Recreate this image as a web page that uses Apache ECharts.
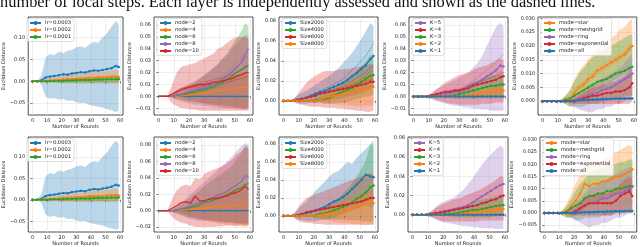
<!DOCTYPE html>
<html><head><meta charset="utf-8">
<script src="https://cdn.jsdelivr.net/npm/echarts@6/dist/echarts.min.js"></script>
<style>html,body{margin:0;padding:0;background:#fff}#c{width:640px;height:247px}</style>
</head><body><div id="c"></div>
<script>
// rounds sampled
const X = [0,3,6,9,12,15,18,21,24,27,30,33,36,39,42,45,48,51,54,57,59];
const xTicks = [0,10,20,30,40,50,60];
const Z = [0,0,0,0,0,0,0,0,0,0,0,0,0,0,0,0,0,0,0,0,0];

// Panel A / F : learning rate
const lrNames = ['lr=0.0003','lr=0.0002','lr=0.0001'];
const A_m1 = [0,0,0.002,0.009,0.011,0.012,0.014,0.016,0.015,0.018,0.019,0.021,0.020,0.023,0.025,0.024,0.026,0.028,0.030,0.035,0.033];
const A_h1 = [0,0,0.012,0.055,0.062,0.060,0.068,0.065,0.070,0.072,0.078,0.080,0.076,0.085,0.090,0.088,0.100,0.110,0.125,0.138,0.130];
const A_l1 = [0,0,-0.007,-0.035,-0.040,-0.038,-0.042,-0.040,-0.045,-0.044,-0.048,-0.050,-0.049,-0.054,-0.056,-0.058,-0.060,-0.064,-0.066,-0.070,-0.067];
const A_m2 = [0,0,0,0.001,0.002,0.002,0.003,0.004,0.004,0.005,0.006,0.006,0.007,0.008,0.008,0.009,0.009,0.010,0.011,0.011,0.010];
const A_h2 = [0,0,0.001,0.005,0.008,0.009,0.010,0.012,0.013,0.015,0.017,0.017,0.018,0.020,0.021,0.022,0.022,0.024,0.025,0.026,0.024];
const A_l2 = [0,0,-0.001,-0.003,-0.004,-0.004,-0.004,-0.005,-0.005,-0.005,-0.005,-0.006,-0.005,-0.005,-0.006,-0.005,-0.005,-0.006,-0.005,-0.006,-0.005];
const A_m3 = [0,0,0,0,0.0005,0.001,0.001,0.0015,0.002,0.002,0.0025,0.003,0.003,0.003,0.0035,0.004,0.004,0.0045,0.005,0.005,0.005];
const A_h3 = [0,0,0,0.001,0.003,0.004,0.005,0.006,0.007,0.007,0.008,0.009,0.009,0.010,0.010,0.011,0.011,0.012,0.012,0.013,0.012];
const A_l3 = [0,0,0,-0.001,-0.002,-0.002,-0.003,-0.003,-0.003,-0.003,-0.003,-0.003,-0.003,-0.004,-0.003,-0.003,-0.003,-0.003,-0.003,-0.003,-0.003];

// Panel B : nodes (top)
const nodeNames = ['node=2','node=4','node=6','node=8','node=10'];
const B_m2 = [0,0,0,0,0,0.0005,0.001,0.0015,0.002,0.0025,0.003,0.0035,0.004,0.0045,0.005,0.0055,0.006,0.007,0.0075,0.008,0.008];
const B_h2 = [0,0,0,0,0,0.002,0.004,0.006,0.008,0.009,0.010,0.011,0.012,0.013,0.014,0.015,0.016,0.018,0.019,0.020,0.020];
const B_l2 = [0,0,0,0,0,-0.001,-0.002,-0.003,-0.004,-0.005,-0.006,-0.007,-0.007,-0.008,-0.009,-0.009,-0.010,-0.010,-0.010,-0.011,-0.010];
const B_m3 = [0,0,0,0,0.001,0.0015,0.002,0.003,0.004,0.005,0.006,0.007,0.008,0.010,0.012,0.014,0.017,0.020,0.022,0.025,0.026];
const B_h3 = [0,0,0,0.001,0.004,0.006,0.008,0.010,0.012,0.015,0.018,0.020,0.024,0.027,0.032,0.036,0.042,0.048,0.054,0.062,0.058];
const B_l3 = [0,0,0,-0.001,-0.002,-0.003,-0.004,-0.004,-0.005,-0.005,-0.006,-0.006,-0.007,-0.007,-0.007,-0.008,-0.008,-0.009,-0.009,-0.010,-0.009];
const B_m4 = [0,0,0,0,0.001,0.002,0.003,0.004,0.005,0.006,0.007,0.008,0.010,0.012,0.014,0.017,0.020,0.024,0.028,0.035,0.040];
const B_h4 = [0,0,0,0.001,0.004,0.007,0.009,0.011,0.013,0.015,0.018,0.021,0.024,0.027,0.031,0.035,0.040,0.044,0.048,0.052,0.050];
const B_l4 = [0,0,0,-0.001,-0.003,-0.004,-0.005,-0.006,-0.007,-0.007,-0.008,-0.008,-0.009,-0.009,-0.010,-0.010,-0.010,-0.010,-0.011,-0.011,-0.010];
const B_m5 = [0,0,0,0.002,0.004,0.006,0.007,0.008,0.009,0.010,0.010,0.011,0.012,0.012,0.013,0.014,0.015,0.017,0.018,0.020,0.020];
const B_h5 = [0,0,0.001,0.010,0.020,0.025,0.026,0.027,0.028,0.030,0.032,0.034,0.036,0.040,0.042,0.045,0.048,0.050,0.050,0.050,0.048];
const B_l5 = [0,0,-0.001,-0.006,-0.008,-0.010,-0.010,-0.011,-0.011,-0.012,-0.012,-0.012,-0.012,-0.012,-0.012,-0.012,-0.012,-0.012,-0.012,-0.012,-0.012];
// per-layer (dashed) curves, panel B
const B_g_a = [0,0,0,0,0.001,0.002,0.003,0.004,0.005,0.006,0.007,0.009,0.010,0.013,0.015,0.018,0.021,0.025,0.028,0.032,0.034];
const B_g_b = [0,0,0,0,0.001,0.001,0.002,0.002,0.003,0.004,0.005,0.006,0.007,0.008,0.010,0.011,0.013,0.016,0.018,0.020,0.022];
const B_p_a = [0,0,0,0,0.001,0.002,0.003,0.005,0.006,0.007,0.008,0.010,0.012,0.014,0.017,0.020,0.024,0.028,0.032,0.037,0.036];
const B_p_b = [0,0,0,0,0.001,0.002,0.003,0.003,0.004,0.005,0.006,0.007,0.009,0.010,0.012,0.014,0.017,0.020,0.023,0.027,0.028];
const B_r_a = [0,0,0,0.002,0.005,0.007,0.008,0.009,0.010,0.011,0.012,0.013,0.014,0.015,0.016,0.017,0.018,0.020,0.022,0.024,0.025];
const B_r_b = [0,0,0,0.001,0.003,0.005,0.006,0.007,0.008,0.008,0.009,0.010,0.010,0.011,0.011,0.012,0.013,0.014,0.015,0.016,0.017];

// Panel C : dataset size (top)
const sizeNames = ['Size2000','Size4000','Size6000','Size8000'];
const C_m1 = [0,0,0,0.001,0.002,0.003,0.005,0.007,0.009,0.010,0.012,0.014,0.016,0.018,0.021,0.025,0.028,0.032,0.036,0.042,0.045];
const C_h1 = [0,0,0.001,0.005,0.008,0.010,0.013,0.016,0.019,0.022,0.025,0.029,0.033,0.038,0.043,0.048,0.055,0.062,0.070,0.078,0.075];
const C_l1 = [0,0,-0.001,-0.002,-0.003,-0.003,-0.002,-0.002,-0.001,-0.001,0,0.001,0.002,0.003,0.004,0.005,0.006,0.008,0.010,0.012,0.014];
const C_m2 = [0,0,0,0,0,0,0,0.0005,0.001,0.002,0.003,0.005,0.007,0.009,0.011,0.013,0.016,0.019,0.022,0.025,0.026];
const C_h2 = [0,0,0,0,0,0.001,0.002,0.003,0.005,0.007,0.009,0.012,0.015,0.018,0.022,0.026,0.030,0.035,0.040,0.046,0.045];
const C_l2 = [0,0,0,0,0,-0.001,-0.001,-0.002,-0.002,-0.003,-0.003,-0.003,-0.002,-0.002,-0.001,0,0.002,0.003,0.004,0.005,0.006];
const C_m3 = [0,0,0,0.001,0.002,0.003,0.004,0.005,0.007,0.008,0.009,0.010,0.011,0.012,0.013,0.014,0.015,0.016,0.017,0.019,0.019];
const C_h3 = [0,0,0.001,0.006,0.012,0.018,0.022,0.025,0.028,0.030,0.030,0.030,0.031,0.032,0.032,0.033,0.034,0.035,0.036,0.037,0.036];
const C_l3 = [0,0,-0.001,-0.003,-0.004,-0.005,-0.006,-0.006,-0.006,-0.007,-0.007,-0.007,-0.008,-0.008,-0.009,-0.009,-0.010,-0.010,-0.011,-0.011,-0.010];
const C_m4 = [0,0,0,0,0,0,0,0,0.001,0.003,0.004,0.005,0.006,0.007,0.008,0.009,0.010,0.011,0.012,0.013,0.014];
const C_h4 = [0,0,0,0,0,0,0,0,0.004,0.008,0.010,0.012,0.014,0.016,0.018,0.020,0.022,0.024,0.026,0.028,0.028];
const C_l4 = [0,0,0,0,0,0,0,0,-0.002,-0.003,-0.003,-0.003,-0.004,-0.004,-0.004,-0.005,-0.005,-0.005,-0.005,-0.005,-0.005];
const C_b_a = [0,0,0,0.001,0.002,0.004,0.006,0.008,0.010,0.012,0.014,0.017,0.019,0.022,0.026,0.031,0.035,0.040,0.045,0.052,0.058];
const C_b_b = [0,0,0,0.001,0.002,0.003,0.004,0.006,0.007,0.008,0.010,0.012,0.013,0.015,0.017,0.020,0.023,0.026,0.029,0.033,0.036];
const C_g_a = [0,0,0,0,0,0,0,0.001,0.001,0.002,0.004,0.006,0.008,0.011,0.013,0.016,0.019,0.022,0.025,0.029,0.031];
const C_r_a = [0,0,0,0.001,0.002,0.003,0.004,0.006,0.008,0.009,0.010,0.011,0.012,0.013,0.015,0.016,0.017,0.018,0.020,0.021,0.022];

// Panel D : local steps K (top)
const kNames = ['K=5','K=4','K=3','K=2','K=1'];
const D_m1 = [0,0,0,0,0.0005,0.001,0.002,0.002,0.003,0.004,0.004,0.006,0.008,0.010,0.012,0.014,0.017,0.019,0.022,0.026,0.025];
const D_h1 = [0,0,0,0.001,0.003,0.006,0.008,0.010,0.012,0.014,0.016,0.018,0.020,0.024,0.028,0.034,0.042,0.050,0.058,0.062,0.058];
const D_l1 = [0,0,0,-0.001,-0.002,-0.004,-0.005,-0.006,-0.007,-0.008,-0.008,-0.009,-0.009,-0.010,-0.010,-0.011,-0.011,-0.012,-0.012,-0.012,-0.012];
const D_m2 = [0,0,0,0,0.001,0.002,0.003,0.004,0.004,0.005,0.005,0.006,0.007,0.009,0.010,0.011,0.012,0.013,0.014,0.016,0.017];
const D_h2 = [0,0,0,0.001,0.003,0.006,0.009,0.012,0.014,0.016,0.018,0.019,0.020,0.022,0.024,0.025,0.026,0.028,0.030,0.032,0.030];
const D_l2 = [0,0,0,-0.001,-0.002,-0.003,-0.004,-0.005,-0.006,-0.006,-0.007,-0.007,-0.007,-0.007,-0.007,-0.006,-0.006,-0.006,-0.005,-0.005,-0.005];
const D_m3 = [0,0,0,0,0,0,0,0,0.0005,0.001,0.002,0.003,0.004,0.005,0.006,0.007,0.008,0.009,0.009,0.010,0.010];
const D_h3 = [0,0,0,0,0,0,0,0.001,0.002,0.004,0.006,0.008,0.010,0.012,0.013,0.015,0.016,0.017,0.018,0.019,0.019];
const D_l3 = [0,0,0,0,0,0,0,-0.001,-0.001,-0.002,-0.002,-0.002,-0.002,-0.002,-0.001,-0.001,0,0,0,0.001,0.001];
const D_m4 = [0,0,0,0,0,0,0,0,0,0,0,0,0.0005,0.001,0.002,0.003,0.003,0.004,0.004,0.005,0.005];
const D_h4 = [0,0,0,0,0,0,0,0,0,0,0,0.001,0.002,0.004,0.006,0.007,0.008,0.009,0.010,0.011,0.011];
const D_l4 = [0,0,0,0,0,0,0,0,0,0,0,-0.001,-0.001,-0.002,-0.002,-0.002,-0.002,-0.002,-0.002,-0.002,-0.002];
const D_p_a = [0,0,0,0,0.001,0.001,0.002,0.003,0.004,0.005,0.006,0.008,0.010,0.013,0.016,0.019,0.022,0.025,0.028,0.033,0.035];
const D_p_b = [0,0,0,0,0,0.001,0.001,0.002,0.002,0.003,0.003,0.005,0.006,0.008,0.010,0.012,0.014,0.016,0.018,0.021,0.020];
const D_r_a = [0,0,0,0,0.001,0.002,0.003,0.004,0.005,0.006,0.006,0.007,0.009,0.011,0.012,0.013,0.015,0.016,0.017,0.019,0.020];

// Panel E : topology mode (top)
const modeNames = ['mode=star','mode=meshgrid','mode=ring','mode=exponential','mode=all'];
const E_m1 = [0,0,0,0,0,0.0005,0.001,0.003,0.005,0.006,0.008,0.009,0.011,0.012,0.013,0.014,0.015,0.016,0.017,0.019,0.020];
const E_h1 = [0,0,0,0,0.0005,0.002,0.004,0.008,0.011,0.013,0.015,0.017,0.019,0.021,0.022,0.023,0.024,0.026,0.027,0.029,0.030];
const E_l1 = [0,0,0,0,-0.0005,-0.001,-0.002,-0.001,0,0.001,0.002,0.003,0.004,0.005,0.006,0.007,0.008,0.009,0.010,0.011,0.012];
const E_m2 = [0,0,0,0,0,0.0005,0.001,0.002,0.003,0.004,0.005,0.006,0.007,0.0075,0.008,0.009,0.010,0.0105,0.011,0.012,0.0125];
const E_h2 = [0,0,0,0,0.0005,0.002,0.004,0.007,0.010,0.012,0.014,0.016,0.017,0.018,0.019,0.020,0.021,0.022,0.023,0.024,0.024];
const E_l2 = [0,0,0,0,-0.0005,-0.001,-0.002,-0.002,-0.002,-0.002,-0.001,-0.001,-0.001,0,0,0.001,0.001,0.001,0.002,0.002,0.002];
const E_m3 = [0,0,0,0,0,0,0,0.0005,0.001,0.0015,0.002,0.0025,0.003,0.004,0.0045,0.005,0.006,0.007,0.008,0.009,0.010];
const E_h3 = [0,0,0,0,0,0.0005,0.001,0.002,0.003,0.004,0.005,0.006,0.007,0.008,0.009,0.010,0.011,0.012,0.014,0.016,0.017];
const E_l3 = [0,0,0,0,0,-0.0005,-0.001,-0.002,-0.003,-0.0035,-0.004,-0.004,-0.003,-0.003,-0.002,-0.002,-0.001,-0.001,0,0.001,0.002];
const E_m4 = [0,0,0,0,0,0,0,0,0.0005,0.001,0.0015,0.002,0.002,0.0025,0.003,0.003,0.0035,0.0035,0.004,0.005,0.0065];
const E_h4 = [0,0,0,0,0,0,0.0005,0.001,0.002,0.003,0.004,0.005,0.005,0.006,0.006,0.007,0.007,0.008,0.009,0.011,0.012];
const E_l4 = [0,0,0,0,0,0,-0.0005,-0.001,-0.001,-0.001,-0.001,-0.001,-0.001,-0.001,-0.001,-0.001,-0.001,-0.001,-0.001,-0.001,0];
const E_m5 = [0,0,0,0,0,0,0,0.0002,0.0003,0.0004,0.0005,0.0006,0.0006,0.0007,0.0008,0.0008,0.0009,0.0009,0.001,0.001,0.001];
const E_h5 = [0,0,0,0,0,0,0.0003,0.0006,0.0008,0.0009,0.001,0.0011,0.0011,0.0012,0.0013,0.0013,0.0014,0.0014,0.0015,0.0015,0.0015];
const E_l5 = [0,0,0,0,0,0,-0.0003,-0.0002,-0.0002,-0.0001,0,0.0001,0.0001,0.0002,0.0003,0.0003,0.0004,0.0004,0.0005,0.0005,0.0005];
const E_o_a = [0,0,0,0,0,0.001,0.002,0.004,0.006,0.007,0.009,0.010,0.012,0.013,0.014,0.015,0.016,0.017,0.018,0.020,0.021];
const E_o_b = [0,0,0,0,0,0.0005,0.001,0.002,0.004,0.005,0.007,0.008,0.010,0.011,0.012,0.013,0.014,0.015,0.016,0.018,0.019];

// Panel G : nodes (bottom)
const G_m2 = [0,0,0,0,0,0.0005,0.001,0.0015,0.002,0.003,0.003,0.004,0.004,0.005,0.005,0.006,0.006,0.007,0.007,0.007,0.007];
const G_h2 = [0,0,0,0,0.001,0.003,0.005,0.007,0.009,0.011,0.013,0.015,0.017,0.019,0.021,0.023,0.025,0.027,0.028,0.029,0.028];
const G_l2 = [0,0,0,0,-0.001,-0.003,-0.005,-0.007,-0.009,-0.011,-0.012,-0.013,-0.014,-0.015,-0.016,-0.017,-0.018,-0.019,-0.019,-0.020,-0.019];
const G_m3 = [0,0,0,0,0.001,0.002,0.003,0.004,0.005,0.007,0.010,0.011,0.013,0.015,0.017,0.019,0.022,0.026,0.028,0.032,0.033];
const G_h3 = [0,0,0,0.001,0.004,0.008,0.012,0.016,0.020,0.025,0.030,0.034,0.038,0.042,0.046,0.050,0.055,0.062,0.070,0.080,0.078];
const G_l3 = [0,0,0,-0.001,-0.003,-0.005,-0.007,-0.008,-0.009,-0.010,-0.010,-0.011,-0.012,-0.012,-0.013,-0.014,-0.014,-0.015,-0.015,-0.016,-0.015];
const G_m4 = [0,0,0,0,0.001,0.002,0.004,0.006,0.008,0.010,0.012,0.014,0.016,0.019,0.021,0.024,0.028,0.031,0.035,0.043,0.041];
const G_h4 = [0,0,0,0.001,0.005,0.010,0.015,0.020,0.025,0.030,0.035,0.040,0.045,0.050,0.055,0.060,0.066,0.072,0.078,0.083,0.080];
const G_l4 = [0,0,0,-0.001,-0.004,-0.006,-0.008,-0.010,-0.011,-0.012,-0.012,-0.013,-0.013,-0.014,-0.014,-0.015,-0.015,-0.016,-0.016,-0.017,-0.016];
const G_m5 = [0,0,0,0.003,0.006,0.010,0.011,0.009,0.018,0.012,0.012,0.014,0.015,0.015,0.017,0.018,0.021,0.022,0.025,0.030,0.026];
const G_h5 = [0,0,0.001,0.015,0.025,0.030,0.032,0.030,0.040,0.038,0.045,0.048,0.050,0.052,0.055,0.058,0.062,0.068,0.072,0.078,0.075];
const G_l5 = [0,0,-0.001,-0.008,-0.012,-0.015,-0.016,-0.018,-0.020,-0.020,-0.020,-0.020,-0.020,-0.019,-0.019,-0.018,-0.018,-0.018,-0.018,-0.018,-0.018];

// Panel H : dataset size (bottom)
const H_m1 = [0,0,0,0.001,0.002,0.003,0.004,0.006,0.008,0.010,0.013,0.016,0.018,0.021,0.025,0.030,0.035,0.040,0.046,0.044,0.043];
const H_h1 = [0,0,0.001,0.006,0.012,0.016,0.022,0.028,0.033,0.038,0.044,0.048,0.050,0.055,0.060,0.058,0.065,0.070,0.075,0.080,0.078];
const H_l1 = [0,0,-0.001,-0.004,-0.005,-0.006,-0.006,-0.006,-0.005,-0.004,-0.003,-0.002,0,0.002,0.004,0.006,0.008,0.010,0.012,0.010,0.010];
const H_m2 = [0,0,0,0,0,0,0,0.0005,0.002,0.003,0.004,0.006,0.008,0.010,0.012,0.015,0.019,0.022,0.026,0.032,0.034];
const H_h2 = [0,0,0,0,0,0,0.001,0.003,0.006,0.009,0.012,0.016,0.020,0.025,0.030,0.036,0.044,0.052,0.062,0.080,0.085];
const H_l2 = [0,0,0,0,0,0,-0.001,-0.002,-0.003,-0.004,-0.004,-0.004,-0.004,-0.004,-0.005,-0.005,-0.005,-0.006,-0.006,-0.007,-0.006];
const H_m3 = [0,0,0,0.001,0.002,0.004,0.005,0.006,0.007,0.008,0.009,0.010,0.011,0.012,0.013,0.014,0.015,0.016,0.018,0.020,0.020];
const H_h3 = [0,0,0.001,0.008,0.015,0.020,0.022,0.024,0.026,0.028,0.030,0.032,0.034,0.036,0.038,0.040,0.042,0.044,0.046,0.048,0.046];
const H_l3 = [0,0,-0.001,-0.005,-0.007,-0.008,-0.008,-0.009,-0.009,-0.010,-0.010,-0.010,-0.010,-0.010,-0.010,-0.010,-0.010,-0.010,-0.010,-0.010,-0.010];
const H_m4 = [0,0,0,0,0,0,0,0,0.001,0.002,0.003,0.004,0.005,0.005,0.006,0.008,0.010,0.011,0.013,0.016,0.014];
const H_h4 = [0,0,0,0,0,0,0,0.001,0.004,0.007,0.010,0.012,0.014,0.016,0.018,0.020,0.022,0.024,0.026,0.028,0.027];
const H_l4 = [0,0,0,0,0,0,0,-0.001,-0.003,-0.004,-0.005,-0.006,-0.007,-0.008,-0.008,-0.009,-0.009,-0.010,-0.010,-0.010,-0.010];

// Panel I : local steps K (bottom)
const I_m1 = [0,0,0,0,0.0005,0.001,0.003,0.004,0.005,0.006,0.007,0.008,0.010,0.013,0.016,0.019,0.022,0.025,0.028,0.031,0.032];
const I_h1 = [0,0,0,0.001,0.004,0.008,0.012,0.014,0.016,0.018,0.022,0.026,0.032,0.038,0.045,0.052,0.058,0.063,0.068,0.072,0.070];
const I_l1 = [0,0,0,-0.001,-0.003,-0.005,-0.007,-0.008,-0.009,-0.010,-0.011,-0.012,-0.012,-0.013,-0.013,-0.014,-0.014,-0.014,-0.015,-0.015,-0.015];
const I_m2 = [0,0,0,0,0.001,0.002,0.002,0.003,0.004,0.005,0.006,0.007,0.008,0.009,0.010,0.012,0.013,0.015,0.016,0.019,0.020];
const I_h2 = [0,0,0,0.001,0.003,0.007,0.010,0.012,0.014,0.016,0.017,0.019,0.021,0.023,0.025,0.027,0.030,0.033,0.036,0.040,0.039];
const I_l2 = [0,0,0,-0.001,-0.002,-0.004,-0.006,-0.007,-0.007,-0.007,-0.007,-0.007,-0.007,-0.007,-0.007,-0.006,-0.006,-0.006,-0.006,-0.006,-0.006];
const I_m3 = [0,0,0,0,0,0,0,0.0005,0.001,0.001,0.002,0.003,0.004,0.005,0.005,0.006,0.007,0.008,0.009,0.010,0.010];
const I_h3 = [0,0,0,0,0,0,0.001,0.002,0.004,0.005,0.007,0.009,0.011,0.013,0.014,0.016,0.017,0.018,0.019,0.020,0.020];
const I_l3 = [0,0,0,0,0,0,-0.001,-0.001,-0.002,-0.003,-0.003,-0.003,-0.003,-0.003,-0.003,-0.003,-0.003,-0.002,-0.002,-0.001,-0.001];
const I_m4 = [0,0,0,0,0,0,0,0,0,0,0.0005,0.001,0.002,0.002,0.003,0.003,0.004,0.004,0.005,0.006,0.006];
const I_h4 = [0,0,0,0,0,0,0,0,0,0,0.002,0.004,0.005,0.006,0.007,0.008,0.009,0.010,0.011,0.012,0.012];
const I_l4 = [0,0,0,0,0,0,0,0,0,0,-0.001,-0.002,-0.002,-0.002,-0.002,-0.002,-0.002,-0.002,-0.001,-0.001,-0.001];

// Panel J : topology mode (bottom)
const J_m1 = [0,0,0,0,0,0.001,0.003,0.005,0.008,0.012,0.011,0.012,0.012,0.013,0.013,0.014,0.015,0.015,0.016,0.017,0.018];
const J_h1 = [0,0,0,0,0.001,0.004,0.008,0.012,0.016,0.019,0.020,0.021,0.021,0.022,0.023,0.024,0.025,0.026,0.027,0.028,0.027];
const J_l1 = [0,0,0,0,-0.001,-0.002,-0.002,-0.001,0,0.002,0.003,0.004,0.005,0.006,0.007,0.007,0.008,0.008,0.009,0.009,0.010];
const J_m2 = [0,0,0,0,0,0.0005,0.002,0.003,0.004,0.006,0.007,0.007,0.008,0.008,0.009,0.009,0.010,0.010,0.0105,0.011,0.011];
const J_h2 = [0,0,0,0,0.001,0.003,0.006,0.009,0.012,0.014,0.016,0.017,0.018,0.018,0.019,0.020,0.020,0.021,0.021,0.022,0.022];
const J_l2 = [0,0,0,0,-0.001,-0.002,-0.002,-0.003,-0.003,-0.002,-0.002,-0.002,-0.002,-0.001,-0.001,-0.001,0,0,0,0.001,0.001];
const J_m3 = [0,0,0,0,0,0,0,0.001,0.002,0.003,0.004,0.004,0.005,0.006,0.006,0.007,0.008,0.008,0.009,0.010,0.011];
const J_h3 = [0,0,0,0,0,0.001,0.002,0.004,0.006,0.008,0.010,0.011,0.012,0.013,0.014,0.015,0.016,0.017,0.018,0.019,0.019];
const J_l3 = [0,0,0,0,0,-0.001,-0.002,-0.003,-0.004,-0.005,-0.006,-0.005,-0.005,-0.004,-0.004,-0.003,-0.002,-0.002,-0.001,0,0];
const J_m4 = [0,0,0,0,0,0,0,0.0005,0.002,0.003,0.004,0.004,0.004,0.004,0.004,0.004,0.005,0.007,0.008,0.009,0.007];
const J_h4 = [0,0,0,0,0,0,0.001,0.002,0.004,0.006,0.007,0.008,0.008,0.008,0.008,0.009,0.010,0.012,0.014,0.015,0.014];
const J_l4 = [0,0,0,0,0,0,-0.001,-0.001,-0.001,-0.001,-0.001,-0.001,-0.001,-0.001,-0.001,-0.001,0,0,0,0,0];
const J_m5 = [0,0,0,0,0,0,0,0.0001,0.0002,0.0003,0.0004,0.0004,0.0005,0.0005,0.0006,0.0006,0.0007,0.0007,0.0008,0.0008,0.0008];
const J_h5 = [0,0,0,0,0,0,0.0003,0.0005,0.0006,0.0007,0.0008,0.0008,0.0009,0.0009,0.001,0.001,0.0011,0.0011,0.0012,0.0012,0.0012];
const J_l5 = [0,0,0,0,0,0,-0.0003,-0.0003,-0.0002,-0.0001,0,0,0.0001,0.0001,0.0002,0.0002,0.0003,0.0003,0.0004,0.0004,0.0004];

const C10 = {blue:'#1f77b4', orange:'#ff7f0e', green:'#2ca02c', red:'#d62728', purple:'#9467bd'};

const panels = [
  {box:[24,17,99,98], y:[-0.077,0.147], yt:[-0.05,0,0.05,0.10], dec:2, mk:true, s:[
    [lrNames[0],'blue',A_m1,A_h1,A_l1],[lrNames[1],'orange',A_m2,A_h2,A_l2],[lrNames[2],'green',A_m3,A_h3,A_l3]]},
  {box:[154,17,99,98], y:[-0.0156,0.0667], yt:[-0.01,0,0.01,0.02,0.03,0.04,0.05,0.06], dec:2, mk:false, s:[
    [nodeNames[0],'blue',Z,null,null],[nodeNames[1],'orange',B_m2,B_h2,B_l2],[nodeNames[2],'green',B_m3,B_h3,B_l3],
    [nodeNames[3],'purple',B_m4,B_h4,B_l4],[nodeNames[4],'red',B_m5,B_h5,B_l5]],
    layers:[['green',B_g_a],['green',B_g_b],['purple',B_p_a],['purple',B_p_b],['red',B_r_a],['red',B_r_b]]},
  {box:[279,17,99,98], y:[-0.0142,0.084], yt:[0,0.02,0.04,0.06,0.08], dec:2, mk:true, s:[
    [sizeNames[0],'blue',C_m1,C_h1,C_l1],[sizeNames[1],'green',C_m2,C_h2,C_l2],[sizeNames[2],'red',C_m3,C_h3,C_l3],[sizeNames[3],'orange',C_m4,C_h4,C_l4]],
    layers:[['blue',C_b_a],['blue',C_b_b],['green',C_g_a],['red',C_r_a]]},
  {box:[409,17,99,98], y:[-0.0155,0.0665], yt:[-0.01,0,0.01,0.02,0.03,0.04,0.05,0.06], dec:2, mk:true, s:[
    [kNames[0],'purple',D_m1,D_h1,D_l1],[kNames[1],'red',D_m2,D_h2,D_l2],[kNames[2],'green',D_m3,D_h3,D_l3],[kNames[3],'orange',D_m4,D_h4,D_l4],[kNames[4],'blue',Z,null,null]],
    layers:[['purple',D_p_a],['purple',D_p_b],['red',D_r_a]]},
  {box:[538,17,100,98], y:[-0.005,0.0305], yt:[0,0.005,0.01,0.015,0.02,0.025,0.03], dec:3, mk:true, s:[
    [modeNames[0],'orange',E_m1,E_h1,E_l1],[modeNames[1],'green',E_m2,E_h2,E_l2],[modeNames[2],'purple',E_m3,E_h3,E_l3],[modeNames[3],'red',E_m4,E_h4,E_l4],[modeNames[4],'blue',E_m5,E_h5,E_l5]],
    layers:[['orange',E_o_a],['orange',E_o_b]]},
  {box:[24,137,99,97], y:[-0.075,0.146], yt:[-0.05,0,0.05,0.10], dec:2, mk:true, s:[
    [lrNames[0],'blue',A_m1,A_h1,A_l1],[lrNames[1],'orange',A_m2,A_h2,A_l2],[lrNames[2],'green',A_m3,A_h3,A_l3]]},
  {box:[154,137,99,97], y:[-0.026,0.090], yt:[-0.02,0,0.02,0.04,0.06,0.08], dec:2, mk:false, s:[
    [nodeNames[0],'blue',Z,null,null],[nodeNames[1],'orange',G_m2,G_h2,G_l2],[nodeNames[2],'green',G_m3,G_h3,G_l3],
    [nodeNames[3],'purple',G_m4,G_h4,G_l4],[nodeNames[4],'red',G_m5,G_h5,G_l5]]},
  {box:[279,137,99,97], y:[-0.018,0.088], yt:[0,0.02,0.04,0.06,0.08], dec:2, mk:true, s:[
    [sizeNames[0],'blue',H_m1,H_h1,H_l1],[sizeNames[1],'green',H_m2,H_h2,H_l2],[sizeNames[2],'red',H_m3,H_h3,H_l3],[sizeNames[3],'orange',H_m4,H_h4,H_l4]]},
  {box:[408,137,100,97], y:[-0.018,0.081], yt:[0,0.02,0.04,0.06,0.08], dec:2, mk:true, s:[
    [kNames[0],'purple',I_m1,I_h1,I_l1],[kNames[1],'red',I_m2,I_h2,I_l2],[kNames[2],'green',I_m3,I_h3,I_l3],[kNames[3],'orange',I_m4,I_h4,I_l4],[kNames[4],'blue',Z,null,null]]},
  {box:[540,137,98,97], y:[-0.0078,0.0312], yt:[-0.005,0,0.005,0.01,0.015,0.02,0.025,0.03], dec:3, mk:true, s:[
    [modeNames[0],'orange',J_m1,J_h1,J_l1],[modeNames[1],'green',J_m2,J_h2,J_l2],[modeNames[2],'purple',J_m3,J_h3,J_l3],[modeNames[3],'red',J_m4,J_h4,J_l4],[modeNames[4],'blue',J_m5,J_h5,J_l5]]}
];

const FONT = 'DejaVu Sans';
const grids=[], xAxes=[], yAxes=[], legends=[], series=[];
panels.forEach((p,i)=>{
  grids.push({left:p.box[0], top:p.box[1], width:p.box[2], height:p.box[3], show:true, borderColor:'#222', borderWidth:0.8, backgroundColor:'rgba(0,0,0,0)'});
  xAxes.push({type:'value', gridIndex:i, min:-2.95, max:61.95,
    axisLine:{show:false}, axisTick:{show:true, length:2, customValues:xTicks, lineStyle:{color:'#222', width:0.6}},
    axisLabel:{customValues:xTicks, fontSize:5, margin:3, color:'#222', fontFamily:FONT},
    splitLine:{show:true, lineStyle:{color:'#e3e3e3', width:0.6}},
    name:'Number of Rounds', nameLocation:'middle', nameGap:9, nameTextStyle:{fontSize:5, color:'#222', fontFamily:FONT}});
  yAxes.push({type:'value', gridIndex:i, min:p.y[0], max:p.y[1],
    axisLine:{show:false}, axisTick:{show:true, length:2, customValues:p.yt, lineStyle:{color:'#222', width:0.6}},
    axisLabel:{customValues:p.yt, fontSize:5, margin:3, color:'#222', fontFamily:FONT,
      formatter:v=>(v<-1e-9?'\u2212':'')+Math.abs(v).toFixed(p.dec)},
    splitLine:{show:true, lineStyle:{color:'#e3e3e3', width:0.6}},
    name:'Euclidean Distance', nameLocation:'middle', nameGap: p.dec===3?17:14, nameRotate:90,
    nameTextStyle:{fontSize:5, color:'#222', fontFamily:FONT}});
  legends.push({orient:'vertical', left:p.box[0]+3, top:p.box[1]+1.5, data:p.s.map(s=>s[0]),
    itemWidth:11, itemHeight:5, itemGap:2, padding:[2,3,2,2], backgroundColor:'rgba(255,255,255,0.8)',
    borderColor:'#ccc', borderWidth:0.6, borderRadius:2, selectedMode:false,
    textStyle:{fontSize:5.2, color:'#222', fontFamily:FONT, padding:[0,0,0,-1]}});
  // bands
  p.s.forEach(s=>{
    if(!s[3]) return;
    const hi=s[3], lo=s[4], col=C10[s[1]];
    series.push({type:'custom', xAxisIndex:i, yAxisIndex:i, silent:true, clip:true, z:1, data:[[X[0],0]],
      renderItem:(params,api)=>{
        const pts=[];
        for(let k=0;k<X.length;k++) pts.push(api.coord([X[k],hi[k]]));
        for(let k=X.length-1;k>=0;k--) pts.push(api.coord([X[k],lo[k]]));
        return {type:'polygon', shape:{points:pts}, style:{fill:col, opacity:0.3}};
      }});
  });
  // per-layer dashed curves
  (p.layers||[]).forEach(L=>{
    const col=C10[L[0]];
    series.push({type:'line', xAxisIndex:i, yAxisIndex:i, z:2, silent:true, symbol:'none',
      data:X.map((x,k)=>[x,L[1][k]]), lineStyle:{width:0.6, color:col, type:[2,1]}, animation:false});
  });
  p.s.forEach(s=>{
    const col=C10[s[1]];
    series.push({type:'line', name:s[0], xAxisIndex:i, yAxisIndex:i, z:3,
      data:X.map((x,k)=>[x,s[2][k]]), color:col,
      symbol:p.mk?'circle':'none', symbolSize:2.5, showSymbol:p.mk,
      lineStyle:{width:p.mk?1.4:1.3, color:col}, itemStyle:{color:col}, animation:false});
  });
});

const chart = echarts.init(document.getElementById('c'), null, {renderer:'canvas'});
chart.setOption({
  animation:false, backgroundColor:'#fff',
  grid:grids, xAxis:xAxes, yAxis:yAxes, legend:legends, series:series,
  graphic:[{type:'text', left:0, top:-5, style:{text:'number of local steps. Each layer is independently assessed and shown as the dashed lines.',
    font:'16.4px "Liberation Serif"', fill:'#111'}}]
});
</script></body></html>
